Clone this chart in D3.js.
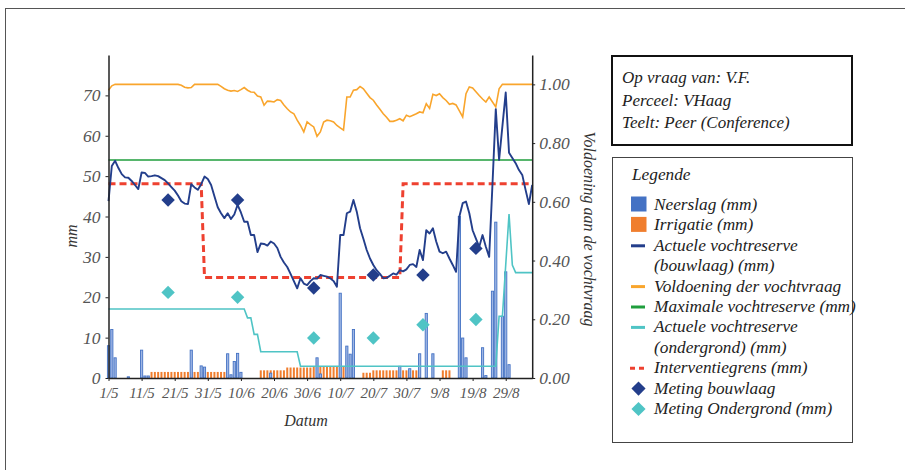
<!DOCTYPE html>
<html>
<head>
<meta charset="utf-8">
<script src="https://cdn.jsdelivr.net/npm/d3@7"></script>
<style>
  html, body { margin: 0; padding: 0; background: #fff; }
  svg text { font-family: "Liberation Serif", "Times New Roman", serif; font-style: italic; }
</style>
</head>
<body>
<svg id="chart" width="905" height="470"></svg>
<script>
// Seizoen: dagelijkse waarden vanaf 1/5 t/m 6/9
const seizoenStart = "1/5";
const seizoenEinde = "6/9";
const datumLabels = ["1/5","11/5","21/5","31/5","10/6","20/6","30/6","10/7","20/7","30/7","9/8","19/8","29/8"];
const mmTicks = [0, 10, 20, 30, 40, 50, 60, 70];
const voldoeningTicks = [0, 0.2, 0.4, 0.6, 0.8, 1.0];

// Neerslag (mm) per dag
const neerslag = [
  8.0, 12.0, 5.0, 0, 0, 0, 0.3, 0, 0, 0,
  6.9, 0.5, 0.5, 0, 0, 0, 0, 0, 0, 0,
  0, 0, 0, 0, 0, 6.9, 0, 0, 3.0, 2.7,
  0, 0, 0, 0, 0, 0, 6.0, 0.8, 4.1, 6.1,
  1.4, 0, 0, 0, 0, 0, 0, 0, 0, 1.2,
  0, 0, 0, 0, 0, 0, 0, 0, 0, 0,
  0, 0, 0, 5.0, 1.0, 0, 0, 0, 0, 0,
  21.0, 0, 7.9, 5.9, 12.0, 0, 0, 0, 0, 0,
  0, 0, 0, 0, 0, 0, 0, 0, 2.9, 0,
  0, 2.3, 0, 0, 6.0, 0, 16.0, 0, 6.0, 0,
  0, 0, 0, 0, 0, 0, 40.0, 9.9, 5.0, 0,
  0, 0, 0, 7.5, 0.6, 0, 21.5, 38.6, 0, 15.3,
  26.3, 3.3, 0, 0, 0, 0, 0, 0, 0
];

// Irrigatie (mm) per dag
const irrigatie = [
  0, 0, 0, 0, 0, 0, 0, 0, 0, 0,
  0, 0, 0, 1.5, 1.5, 1.5, 1.5, 1.5, 1.5, 1.5,
  1.5, 1.5, 1.5, 1.5, 1.5, 1.5, 1.5, 1.5, 1.5, 1.5,
  1.5, 1.5, 1.5, 1.5, 1.5, 1.5, 0, 0, 0, 0,
  0, 0, 0, 0, 0, 0, 1.9, 1.9, 1.9, 1.9,
  1.9, 1.9, 1.9, 1.9, 2.6, 2.6, 2.6, 2.6, 2.6, 2.6,
  2.6, 2.6, 2.9, 2.9, 2.9, 2.9, 2.9, 2.9, 2.9, 2.9,
  2.9, 2.9, 2.9, 2.9, 0, 0, 0, 1.3, 1.3, 1.3,
  1.9, 1.9, 1.9, 1.9, 1.9, 1.9, 1.9, 1.9, 1.9, 1.9,
  1.9, 1.9, 1.9, 1.9, 1.9, 0, 0, 0, 0, 0,
  0, 1.9, 1.9, 1.9, 0, 0, 0, 0, 0, 0,
  0, 0, 0, 0, 0, 0, 0, 0, 0, 0,
  0, 0, 0, 0, 0, 0, 0, 0, 0
];

// Actuele vochtreserve bouwlaag (mm)
const bouwlaag = [
  43.8, 52.5, 53.8, 52.0, 50.5, 49.7, 49.6, 48.8, 47.8, 46.8,
  50.9, 50.8, 49.9, 50.0, 50.2, 50.0, 49.5, 49.0, 48.2, 47.3,
  46.4, 45.2, 43.8, 43.2, 43.1, 48.0, 47.2, 46.6, 48.0, 49.9,
  49.3, 47.8, 45.0, 42.3, 40.8, 39.6, 40.8, 39.4, 40.5, 42.9,
  41.0, 38.7, 38.7, 35.4, 35.4, 31.2, 33.3, 33.2, 32.8, 33.8,
  33.3, 32.2, 30.0, 28.6, 27.5, 25.8, 24.0, 22.2, 24.7, 23.4,
  23.0, 24.0, 24.7, 24.6, 25.5, 25.3, 25.1, 24.7, 24.0, 22.6,
  35.4, 35.4, 40.8, 41.2, 44.1, 41.2, 37.1, 34.5, 31.7, 29.6,
  28.0, 26.7, 25.8, 24.7, 24.8, 25.3, 25.9, 25.6, 26.7, 26.4,
  26.9, 28.0, 28.2, 27.5, 31.7, 29.2, 36.6, 35.8, 37.1, 33.8,
  31.3, 30.9, 31.3, 29.6, 28.0, 26.3, 40.0, 43.3, 43.7, 40.8,
  36.6, 34.5, 32.5, 35.4, 32.5, 30.0, 48.0, 66.6, 54.0, 62.4,
  70.7, 55.8, 54.5, 53.2, 51.5, 50.3, 46.6, 43.1, 47.8
];

// Voldoening der vochtvraag (fractie, rechteras)
const voldoening = [
  0.980, 0.995, 1.0, 1.0, 1.0, 1.0, 1.0, 1.0, 1.0, 1.0,
  1.0, 1.0, 1.0, 1.0, 1.0, 1.0, 1.0, 1.0, 1.0, 1.0,
  1.0, 1.0, 0.997, 0.990, 0.988, 0.989, 1.0, 1.0, 1.0, 1.0,
  1.0, 1.0, 1.0, 1.0, 0.993, 0.985, 0.980, 0.977, 0.979, 0.976,
  0.982, 0.989, 0.980, 0.974, 0.973, 0.960, 0.957, 0.929, 0.943, 0.942,
  0.940, 0.948, 0.945, 0.930, 0.917, 0.906, 0.900, 0.878, 0.860, 0.838,
  0.872, 0.863, 0.855, 0.823, 0.838, 0.872, 0.878, 0.876, 0.872, 0.860,
  0.852, 0.844, 0.957, 0.957, 0.980, 0.982, 0.993, 0.985, 0.970, 0.955,
  0.946, 0.930, 0.915, 0.900, 0.888, 0.874, 0.874, 0.878, 0.883, 0.876,
  0.895, 0.890, 0.895, 0.900, 0.906, 0.903, 0.934, 0.918, 0.966, 0.962,
  0.968, 0.955, 0.945, 0.932, 0.935, 0.930, 0.910, 0.889, 0.968, 0.991,
  0.988, 0.975, 0.962, 0.950, 0.940, 0.957, 0.940, 0.923, 0.985, 1.0,
  1.0, 1.0, 1.0, 1.0, 1.0, 1.0, 1.0, 1.0, 1.0
];

// Actuele vochtreserve ondergrond (mm)
const ondergrond = [
  17.1, 17.1, 17.1, 17.1, 17.1, 17.1, 17.1, 17.1, 17.1, 17.1,
  17.1, 17.1, 17.1, 17.1, 17.1, 17.1, 17.1, 17.1, 17.1, 17.1,
  17.1, 17.1, 17.1, 17.1, 17.1, 17.1, 17.1, 17.1, 17.1, 17.1,
  17.1, 17.1, 17.1, 17.1, 17.1, 17.1, 17.1, 17.1, 17.1, 17.1,
  17.1, 17.1, 14.9, 14.9, 10.8, 10.8, 6.5, 6.5, 6.5, 6.5,
  6.5, 6.5, 6.5, 6.5, 6.5, 6.5, 6.5, 6.5, 2.9, 2.9,
  2.9, 2.9, 2.9, 2.9, 2.9, 2.9, 2.9, 2.9, 2.9, 2.9,
  2.9, 2.9, 2.9, 2.9, 2.9, 2.9, 2.9, 2.9, 2.9, 2.9,
  2.9, 2.9, 2.9, 2.9, 2.9, 2.9, 2.9, 2.9, 2.9, 2.9,
  2.9, 2.9, 2.9, 2.9, 2.9, 2.9, 2.9, 2.9, 2.9, 2.9,
  2.9, 2.9, 2.9, 2.9, 2.9, 2.9, 2.9, 2.9, 2.9, 2.9,
  2.9, 2.9, 2.9, 2.9, 2.9, 2.9, 2.9, 2.9, 15.3, 15.3,
  28.0, 40.6, 28.0, 26.1, 26.1, 26.1, 26.1, 26.1, 26.1
];

// Maximale vochtreserve (mm)
const maximaleReserve = 54.0;

// Interventiegrens (mm): hoekpunten van de trap
const interventieDatum = ["1/5", "29/5", "30/5", "28/7", "29/7", "6/9"];
const interventieMm = [48.1, 48.1, 24.9, 24.9, 48.1, 48.1];

// Metingen
const metingDatum = ["19/5", "9/6", "2/7", "20/7", "4/8", "20/8"];
const metingBouwlaag = [44.1, 44.1, 22.3, 25.5, 25.5, 32.1];
const metingOndergrond = [21.2, 20.0, 9.9, 9.9, 13.2, 14.5];

const infoRegels = ["Op vraag van: V.F.", "Perceel: VHaag", "Teelt: Peer (Conference)"];

// ---------------------------------------------------------------
const kleur = {
  neerslag: "#4472C4", neerslagLicht: "#9FB6E4",
  irrigatie: "#F07E2E",
  bouwlaag: "#233E8B",
  voldoening: "#F9A52C",
  maximaal: "#1F9E3D",
  ondergrond: "#4FC4C5",
  interventie: "#EE4130"
};

const jaar = 2021;
const parseDatum = s => { const [d, m] = s.split("/").map(Number); return new Date(Date.UTC(jaar, m - 1, d)); };
const start = parseDatum(seizoenStart);
const dagDatum = i => d3.utcDay.offset(start, i);

const svg = d3.select("#chart");

// Buitenkader
svg.append("rect").attr("x", 5.5).attr("y", 8.5).attr("width", 1000).attr("height", 1000)
  .attr("fill", "none").attr("stroke", "#555").attr("stroke-width", 1);

const plotL = 108.5, plotR = 532.2, plotT = 55, plotB = 378;
const x = d3.scaleUtc().domain([start, parseDatum(seizoenEinde)]).range([plotL, plotR]);
const yL = d3.scaleLinear().domain([0, 80]).range([plotB, plotT]);
const yR = d3.scaleLinear().domain([0, 1.1]).range([plotB, plotT]);

const plot = svg.append("g");

// Irrigatie-staven
plot.append("g").selectAll("rect").data(irrigatie.map((v, i) => ({ v, d: dagDatum(i) })).filter(e => e.v > 0))
  .join("rect")
  .attr("x", e => x(e.d) - 1).attr("width", 2)
  .attr("y", e => yL(e.v)).attr("height", e => yL(0) - yL(e.v))
  .attr("fill", kleur.irrigatie);

// Neerslag-staven
plot.append("g").selectAll("rect").data(neerslag.map((v, i) => ({ v, d: dagDatum(i) })).filter(e => e.v > 0))
  .join("rect")
  .attr("x", e => x(e.d) - 1.1).attr("width", 2.2)
  .attr("y", e => yL(e.v)).attr("height", e => yL(0) - yL(e.v))
  .attr("fill", kleur.neerslagLicht).attr("stroke", kleur.neerslag).attr("stroke-width", 0.9);

const lijnMm = d3.line().x((v, i) => x(dagDatum(i))).y(v => yL(v));
const lijnFractie = d3.line().x((v, i) => x(dagDatum(i))).y(v => yR(v));

// Ondergrond
plot.append("path").datum(ondergrond).attr("d", lijnMm)
  .attr("fill", "none").attr("stroke", kleur.ondergrond).attr("stroke-width", 1.6);

// Maximale vochtreserve
plot.append("line").attr("x1", x(start)).attr("x2", x(parseDatum(seizoenEinde)))
  .attr("y1", yL(maximaleReserve)).attr("y2", yL(maximaleReserve))
  .attr("stroke", kleur.maximaal).attr("stroke-width", 1.6);

// Voldoening
plot.append("path").datum(voldoening).attr("d", lijnFractie)
  .attr("fill", "none").attr("stroke", kleur.voldoening).attr("stroke-width", 1.6);

// Interventiegrens
plot.append("path").datum(interventieDatum.map((d, i) => [parseDatum(d), interventieMm[i]]))
  .attr("d", d3.line().x(p => x(p[0])).y(p => yL(p[1])))
  .attr("fill", "none").attr("stroke", kleur.interventie).attr("stroke-width", 3)
  .attr("stroke-dasharray", "7,4");

// Bouwlaag
plot.append("path").datum(bouwlaag).attr("d", lijnMm)
  .attr("fill", "none").attr("stroke", kleur.bouwlaag).attr("stroke-width", 1.9)
  .attr("stroke-linejoin", "round");

// Metingen
const ruit = d3.symbol(d3.symbolSquare, 90);
plot.append("g").selectAll("path").data(metingDatum)
  .join("path").attr("d", ruit)
  .attr("transform", (d, i) => `translate(${x(parseDatum(d))},${yL(metingBouwlaag[i])}) rotate(45)`)
  .attr("fill", kleur.bouwlaag);
plot.append("g").selectAll("path").data(metingDatum)
  .join("path").attr("d", ruit)
  .attr("transform", (d, i) => `translate(${x(parseDatum(d))},${yL(metingOndergrond[i])}) rotate(45)`)
  .attr("fill", kleur.ondergrond);

// Assen
const tekstKleur = "#555";
const axL = svg.append("g").attr("transform", `translate(${plotL},0)`)
  .call(d3.axisLeft(yL).tickValues(mmTicks).tickSize(3).tickSizeOuter(0).tickPadding(5).tickFormat(d3.format("d")));
const axR = svg.append("g").attr("transform", `translate(${plotR},0)`)
  .call(d3.axisRight(yR).tickValues(voldoeningTicks).tickSize(3).tickSizeOuter(0).tickPadding(4).tickFormat(d3.format(".2f")));
const axB = svg.append("g").attr("transform", `translate(0,${plotB})`)
  .call(d3.axisBottom(x).tickValues(datumLabels.map(parseDatum)).tickSize(3).tickSizeOuter(0).tickPadding(6)
    .tickFormat((d, i) => datumLabels[i]));
[axL, axR, axB].forEach(a => {
  a.selectAll(".domain").attr("stroke", "#222").attr("stroke-width", 1.5);
  a.selectAll(".tick line").attr("stroke", "#222");
  a.selectAll("text").attr("fill", tekstKleur)
    .attr("font-family", "Liberation Serif").attr("font-style", "italic");
});
axL.selectAll("text").attr("font-size", 17.5);
axR.selectAll("text").attr("font-size", 17.5);
axB.selectAll("text").attr("font-size", 15);

// Astitels
svg.append("text").attr("transform", "translate(77,236) rotate(-90)").attr("text-anchor", "middle")
  .attr("font-size", 16).attr("fill", "#333").text("mm");
svg.append("text").attr("transform", "translate(584,229) rotate(90)").attr("text-anchor", "middle")
  .attr("font-size", 16).attr("fill", "#333").text("Voldoening aan de vochtvraag");
svg.append("text").attr("x", 306).attr("y", 426).attr("text-anchor", "middle")
  .attr("font-size", 16).attr("fill", "#333").text("Datum");

// Infokader
svg.append("rect").attr("x", 612).attr("y", 56).attr("width", 240).attr("height", 89)
  .attr("fill", "#fff").attr("stroke", "#111").attr("stroke-width", 2);
svg.append("g").selectAll("text").data(infoRegels).join("text")
  .attr("x", 622).attr("y", (d, i) => 83 + i * 22.5)
  .attr("font-size", 17).attr("fill", "#222").text(d => d);

// Legende
const legFont = 17.3;
const leg = svg.append("g");
leg.append("rect").attr("x", 612.5).attr("y", 157.5).attr("width", 240).attr("height", 285)
  .attr("fill", "#fff").attr("stroke", "#444").attr("stroke-width", 1);
leg.append("text").attr("x", 632).attr("y", 180).attr("font-size", legFont).attr("fill", "#222").text("Legende");

const items = [
  { type: "vlak", kleur: kleur.neerslag, tekst: ["Neerslag (mm)"] },
  { type: "vlak", kleur: kleur.irrigatie, tekst: ["Irrigatie (mm)"] },
  { type: "lijn", kleur: kleur.bouwlaag, tekst: ["Actuele vochtreserve", "(bouwlaag) (mm)"] },
  { type: "lijn", kleur: kleur.voldoening, tekst: ["Voldoening der vochtvraag"] },
  { type: "lijn", kleur: kleur.maximaal, tekst: ["Maximale vochtreserve (mm)"] },
  { type: "lijn", kleur: kleur.ondergrond, tekst: ["Actuele vochtreserve", "(ondergrond) (mm)"] },
  { type: "streep", kleur: kleur.interventie, tekst: ["Interventiegrens (mm)"] },
  { type: "ruit", kleur: kleur.bouwlaag, tekst: ["Meting bouwlaag"] },
  { type: "ruit", kleur: kleur.ondergrond, tekst: ["Meting Ondergrond (mm)"] }
];
let regel = 0;
const regelY = r => 210 + r * 20.4;
items.forEach(it => {
  const by = regelY(regel);
  const cy = by - 5;
  if (it.type === "vlak") {
    leg.append("rect").attr("x", 631).attr("y", by - 13.5).attr("width", 15.5).attr("height", 15)
      .attr("fill", it.kleur);
  } else if (it.type === "lijn") {
    leg.append("line").attr("x1", 631).attr("x2", 645).attr("y1", cy).attr("y2", cy)
      .attr("stroke", it.kleur).attr("stroke-width", 3);
  } else if (it.type === "streep") {
    leg.append("line").attr("x1", 630).attr("x2", 646).attr("y1", cy).attr("y2", cy)
      .attr("stroke", it.kleur).attr("stroke-width", 3).attr("stroke-dasharray", "5,4");
  } else {
    leg.append("path").attr("d", d3.symbol(d3.symbolSquare, 100))
      .attr("transform", `translate(638.5,${cy}) rotate(45)`).attr("fill", it.kleur);
  }
  it.tekst.forEach((t, k) => {
    leg.append("text").attr("x", 654).attr("y", regelY(regel + k))
      .attr("font-size", legFont).attr("fill", "#222").text(t);
  });
  regel += it.tekst.length;
});
</script>
</body>
</html>
